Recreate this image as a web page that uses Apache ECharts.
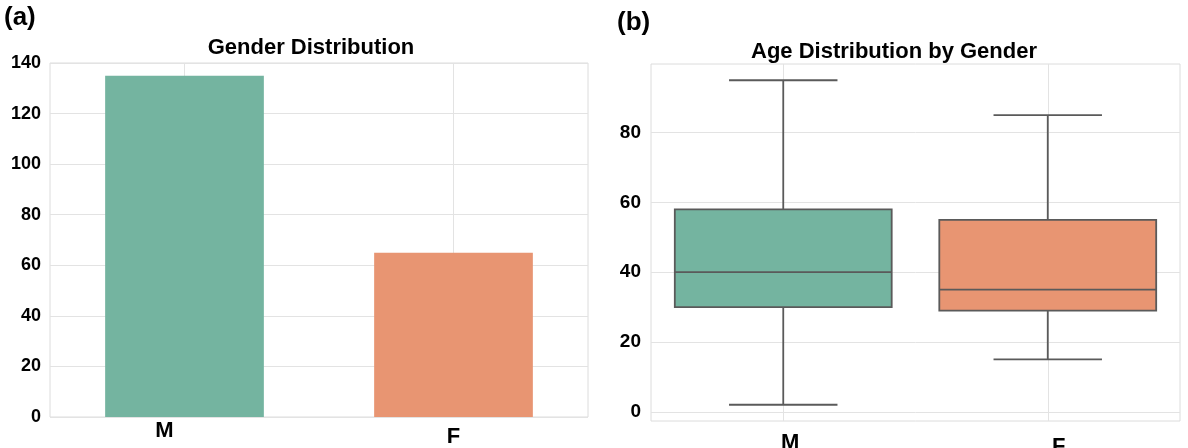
<!DOCTYPE html>
<html>
<head>
<meta charset="utf-8">
<script src="https://cdn.jsdelivr.net/npm/echarts@6/dist/echarts.min.js"></script>
<style>
html,body{margin:0;padding:0;background:#fff;}
#chart{width:1188px;height:448px;}
</style>
</head>
<body>
<div id="chart"></div>
<script>
// Data
var genders = ['M', 'F'];
var genderCounts = [135, 65];
var ageMin = [2, 15];
var ageQ1 = [30, 29];
var ageMedian = [40, 35];
var ageQ3 = [58, 55];
var ageMax = [95, 85];
var countTicks = [0, 20, 40, 60, 80, 100, 120, 140];
var ageTicks = [0, 20, 40, 60, 80];

var colors = ['#74b4a0', '#e89572'];
var edge = '#5a5a5a';
var gridColor = '#e3e3e3';
var font = '"Liberation Sans", Arial, sans-serif';

var boxData = genders.map(function (g, i) {
  return [i, ageMin[i], ageQ1[i], ageMedian[i], ageQ3[i], ageMax[i]];
});

var chart = echarts.init(document.getElementById('chart'), null, {renderer: 'canvas'});

var labelStyle = {color: '#000', fontWeight: 'bold', fontFamily: font};

var option = {
  backgroundColor: '#fff',
  animation: false,
  title: [
    {text: 'Gender Distribution', left: 306, top: 32, textAlign: 'center',
     textStyle: {fontFamily: font, fontWeight: 'bold', fontSize: 22, color: '#000'}},
    {text: 'Age Distribution by Gender', left: 889, top: 36, textAlign: 'center',
     textStyle: {fontFamily: font, fontWeight: 'bold', fontSize: 22, color: '#000'}}
  ],
  graphic: [
    {type: 'text', left: 4, top: 5, style: {text: '(a)', font: 'bold 26px ' + font, fill: '#000'}},
    {type: 'text', left: 617, top: 10, style: {text: '(b)', font: 'bold 26px ' + font, fill: '#000'}}
  ],
  grid: [
    {left: 50, right: 600, top: 63, bottom: 31, outerBoundsMode: 'none', containLabel: false,
     show: true, borderColor: '#dcdcdc', borderWidth: 1, backgroundColor: 'transparent'},
    {left: 651, right: 8, top: 64, bottom: 27, outerBoundsMode: 'none', containLabel: false,
     show: true, borderColor: '#dcdcdc', borderWidth: 1, backgroundColor: 'transparent'}
  ],
  xAxis: [
    {type: 'category', gridIndex: 0, data: [
        {value: genders[0], textStyle: {padding: [0, 40, 0, 0]}},
        {value: genders[1], textStyle: {padding: [6, 0, 0, 0]}}
      ],
     boundaryGap: true,
     axisLine: {show: false}, axisTick: {show: false, alignWithLabel: true},
     splitLine: {show: true, alignWithLabel: true, lineStyle: {color: gridColor, width: 1}},
     axisLabel: Object.assign({margin: 3, fontSize: 22}, labelStyle)},
    {type: 'category', gridIndex: 1, data: [
        {value: genders[0], textStyle: {padding: [8, 0, 0, 14]}},
        {value: genders[1], textStyle: {padding: [12, 0, 0, 22]}}
      ],
     boundaryGap: true,
     axisLine: {show: false}, axisTick: {show: false, alignWithLabel: true},
     splitLine: {show: true, alignWithLabel: true, lineStyle: {color: gridColor, width: 1}},
     axisLabel: Object.assign({margin: 3, fontSize: 22}, labelStyle)}
  ],
  yAxis: [
    {type: 'value', gridIndex: 0, min: 0, max: 140, interval: 20,
     axisLine: {show: false}, axisTick: {show: false},
     splitLine: {show: true, lineStyle: {color: gridColor, width: 1}},
     axisLabel: Object.assign({margin: 9, fontSize: 18, padding: [7, 0, 0, 0]}, labelStyle)},
    {type: 'value', gridIndex: 1, min: -2.65, max: 99.65,
     axisLine: {show: false}, axisTick: {show: false, customValues: ageTicks},
     splitLine: {show: true, lineStyle: {color: gridColor, width: 1}},
     axisLabel: Object.assign({margin: 10, fontSize: 19, customValues: ageTicks, padding: [0, 0, 3, 0]}, labelStyle)}
  ],
  series: [
    {
      type: 'bar', xAxisIndex: 0, yAxisIndex: 0, barWidth: '59%',
      data: genderCounts.map(function (v, i) {
        return {value: v, itemStyle: {color: colors[i]}};
      })
    },
    {
      type: 'custom', xAxisIndex: 1, yAxisIndex: 1,
      data: boxData,
      encode: {x: 0, y: [1, 2, 3, 4, 5]},
      renderItem: function (params, api) {
        var idx = api.value(0);
        var bw = api.size([1, 0])[0];
        var half = bw * 0.41;
        var capHalf = bw * 0.205;
        var pMin = api.coord([idx, api.value(1)]);
        var pQ1 = api.coord([idx, api.value(2)]);
        var pMed = api.coord([idx, api.value(3)]);
        var pQ3 = api.coord([idx, api.value(4)]);
        var pMax = api.coord([idx, api.value(5)]);
        var cx = pMed[0];
        var ls = {stroke: edge, lineWidth: 1.8};
        return {
          type: 'group',
          children: [
            {type: 'line', shape: {x1: cx, y1: pQ3[1], x2: cx, y2: pMax[1]}, style: ls},
            {type: 'line', shape: {x1: cx, y1: pQ1[1], x2: cx, y2: pMin[1]}, style: ls},
            {type: 'line', shape: {x1: cx - capHalf, y1: pMax[1], x2: cx + capHalf, y2: pMax[1]}, style: ls},
            {type: 'line', shape: {x1: cx - capHalf, y1: pMin[1], x2: cx + capHalf, y2: pMin[1]}, style: ls},
            {type: 'rect', shape: {x: cx - half, y: pQ3[1], width: half * 2, height: pQ1[1] - pQ3[1]},
             style: {fill: colors[idx], stroke: edge, lineWidth: 1.8}},
            {type: 'line', shape: {x1: cx - half, y1: pMed[1], x2: cx + half, y2: pMed[1]}, style: ls}
          ]
        };
      }
    }
  ]
};
chart.setOption(option);
</script>
</body>
</html>
